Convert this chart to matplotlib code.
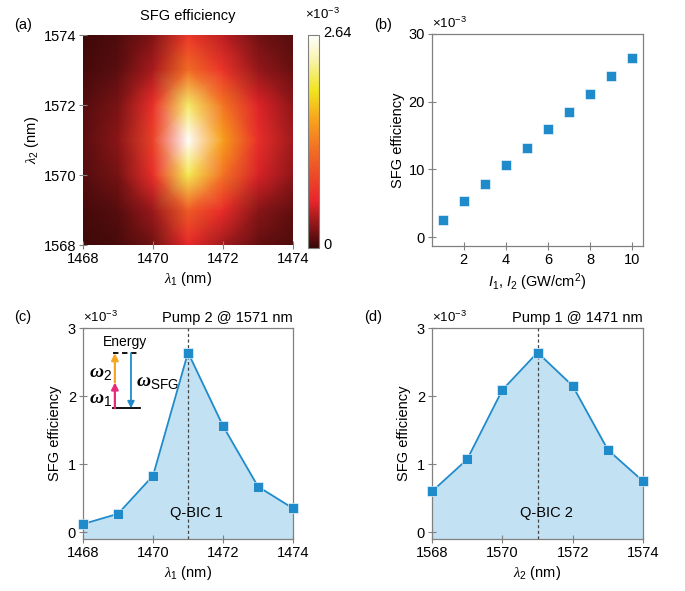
import numpy as np
import matplotlib
matplotlib.use("Agg")
import matplotlib.pyplot as plt
from matplotlib.colors import LinearSegmentedColormap

plt.rcParams['font.family'] = ['Liberation Sans', 'DejaVu Sans']
plt.rcParams['font.size'] = 10
plt.rcParams['mathtext.fontset'] = 'custom'
plt.rcParams['mathtext.rm'] = 'Liberation Sans'
plt.rcParams['mathtext.it'] = 'Liberation Sans:italic'
plt.rcParams['mathtext.sf'] = 'Liberation Serif:italic'
plt.rcParams['mathtext.bf'] = 'Liberation Serif:italic:bold'

# ---- data ----
lam1 = [1468, 1469, 1470, 1471, 1472, 1473, 1474]
lam2 = [1568, 1569, 1570, 1571, 1572, 1573, 1574]
# SFG efficiency map (x1e-3), rows = lam2, cols = lam1
sfg_map = [
    [0.03, 0.06, 0.19, 0.60, 0.35, 0.15, 0.08],
    [0.05, 0.11, 0.34, 1.07, 0.63, 0.27, 0.14],
    [0.10, 0.21, 0.66, 2.09, 1.24, 0.53, 0.28],
    [0.12, 0.27, 0.83, 2.64, 1.56, 0.67, 0.35],
    [0.10, 0.22, 0.68, 2.15, 1.27, 0.55, 0.28],
    [0.05, 0.12, 0.38, 1.21, 0.71, 0.31, 0.16],
    [0.03, 0.08, 0.24, 0.75, 0.44, 0.19, 0.10],
]
intensity = [1, 2, 3, 4, 5, 6, 7, 8, 9, 10]
sfg_vs_I = [2.6, 5.3, 7.9, 10.6, 13.2, 15.9, 18.5, 21.1, 23.8, 26.4]
sfg_pump2 = [0.12, 0.27, 0.83, 2.64, 1.56, 0.67, 0.35]   # vs lam1
sfg_pump1 = [0.60, 1.07, 2.09, 2.64, 2.15, 1.21, 0.75]   # vs lam2

blue = '#1f8bcb'
fillc = '#c2e1f2'
grey = '#808080'

cmap = LinearSegmentedColormap.from_list('sfg', [
    (0.0, '#380808'), (0.22, '#e8262b'), (0.45, '#f26a25'), (0.6, '#f7a21c'),
    (0.74, '#f2e41f'), (0.88, '#f7f3a8'), (1.0, '#ffffff')])

fig = plt.figure(figsize=(6.85, 5.91), dpi=100)

def style(ax):
    for s in ax.spines.values():
        s.set_color(grey)
        s.set_linewidth(0.9)
    ax.tick_params(direction='inout', length=6, width=0.8, color=grey,
                   labelsize=10.5, pad=2)

# (a) heatmap
axa = fig.add_axes([0.1212, 0.5854, 0.3066, 0.3553])
X, Y = np.meshgrid(lam1, lam2)
pc = axa.pcolormesh(X, Y, np.array(sfg_map), shading='gouraud', cmap=cmap,
                    vmin=0, vmax=2.64)
axa.set_xlim(1468, 1474)
axa.set_ylim(1568, 1574)
axa.set_xticks([1468, 1470, 1472, 1474])
axa.set_yticks([1568, 1570, 1572, 1574])
style(axa)
for s in axa.spines.values():
    s.set_visible(False)
axa.set_xlabel(r'$\mathsf{\lambda}_1$ (nm)', fontsize=10.5, labelpad=3)
axa.set_ylabel(r'$\mathsf{\lambda}_2$ (nm)', fontsize=10.5, labelpad=2)
axa.set_title('SFG efficiency', fontsize=10.5, pad=11)
fig.text(0.033, 0.958, '(a)', fontsize=10.5, va='center', ha='center')

cax = fig.add_axes([0.4496, 0.5804, 0.016, 0.3604])
cb = fig.colorbar(pc, cax=cax)
cb.set_ticks([])
cb.outline.set_edgecolor(grey)
cb.outline.set_linewidth(0.8)
fig.text(0.4715, 0.944, '2.64', fontsize=10.5, va='center', ha='left')
fig.text(0.4715, 0.585, '0', fontsize=10.5, va='center', ha='left')
fig.text(0.445, 0.975, r'$\times$10$^{-3}$', fontsize=9.5, va='center', ha='left')

# (b) efficiency vs intensity
axb = fig.add_axes([0.6307, 0.5838, 0.308, 0.3587])
axb.plot(intensity, sfg_vs_I, 's', color=blue, markersize=6.5, mec='white', mew=0.4)
axb.set_xlim(0.5, 10.5)
axb.set_ylim(-1.3, 30)
axb.set_xticks([2, 4, 6, 8, 10])
axb.set_yticks([0, 10, 20, 30])
style(axb)
axb.set_xlabel(r'$I_1$, $I_2$ (GW/cm$^2$)', fontsize=10.5, labelpad=3)
axb.set_ylabel('SFG efficiency', fontsize=10.5, labelpad=3)
axb.text(0.0, 1.015, r'$\times$10$^{-3}$', transform=axb.transAxes,
         fontsize=9.5, va='bottom', ha='left')
fig.text(0.559, 0.958, '(b)', fontsize=10.5, va='center', ha='center')

def line_panel(rect, xs, ys, xlabel, pump, label, tag, tagx):
    ax = fig.add_axes(rect)
    ax.fill_between(xs, ys, -0.1, color=fillc, lw=0)
    ax.plot(xs, ys, '-s', color=blue, lw=1.3, markersize=6.5, mec='white',
            mew=0.4, clip_on=False, zorder=4)
    ax.axvline(xs[3], color='#444444', lw=0.9, ls=(0, (2.5, 2)), zorder=3)
    ax.set_xlim(xs[0], xs[-1])
    ax.set_ylim(-0.1, 3)
    ax.set_xticks(xs[::2])
    ax.set_yticks([0, 1, 2, 3])
    style(ax)
    ax.set_xlabel(xlabel, fontsize=10.5, labelpad=3)
    ax.set_ylabel('SFG efficiency', fontsize=10.5, labelpad=4)
    ax.text(0.0, 1.015, r'$\times$10$^{-3}$', transform=ax.transAxes,
            fontsize=9.5, va='bottom', ha='left')
    ax.text(1.0, 1.015, pump, transform=ax.transAxes, fontsize=10.5,
            va='bottom', ha='right')
    ax.text(xs[3] + 0.25, 0.28, label, fontsize=10.5, ha='center', va='center',
            zorder=5)
    fig.text(tagx, 0.463, tag, fontsize=10.5, va='center', ha='center')
    return ax

axc = line_panel([0.1212, 0.088, 0.3066, 0.357], lam1, sfg_pump2,
                 r'$\mathsf{\lambda}_1$ (nm)', 'Pump 2 @ 1571 nm', 'Q-BIC 1',
                 '(c)', 0.033)
axd = line_panel([0.6307, 0.088, 0.308, 0.357], lam2, sfg_pump1,
                 r'$\mathsf{\lambda}_2$ (nm)', 'Pump 1 @ 1471 nm', 'Q-BIC 2',
                 '(d)', 0.544)

# energy diagram inset in (c)
lo, mid, hi = 1.82, 2.2, 2.63
axc.plot([1468.86, 1469.63], [lo, lo], color='black', lw=1.3, zorder=6)
axc.plot([1468.86, 1469.63], [hi, hi], color='black', lw=1.3,
         ls=(0, (3, 2)), zorder=6)
axc.annotate('', xy=(1468.91, mid), xytext=(1468.91, lo),
             arrowprops=dict(arrowstyle='-|>', color='#e8287a', lw=1.6,
                             mutation_scale=10, shrinkA=0, shrinkB=0), zorder=6)
axc.annotate('', xy=(1468.91, hi), xytext=(1468.91, mid),
             arrowprops=dict(arrowstyle='-|>', color='#f5a623', lw=1.6,
                             mutation_scale=10, shrinkA=0, shrinkB=0), zorder=6)
axc.annotate('', xy=(1469.37, lo), xytext=(1469.37, hi),
             arrowprops=dict(arrowstyle='-|>', color=blue, lw=1.3,
                             mutation_scale=10, shrinkA=0, shrinkB=0), zorder=6)
axc.text(1469.2, 2.8, 'Energy', fontsize=10, ha='center', va='center')
axc.text(1468.5, 2.33, r'$\mathbf{\omega}_2$', fontsize=14, ha='center', va='center')
axc.text(1468.5, 1.95, r'$\mathbf{\omega}_1$', fontsize=14, ha='center', va='center')
axc.text(1469.52, 2.2, r'$\mathbf{\omega}_{\mathrm{SFG}}$', fontsize=14,
         ha='left', va='center')

fig.savefig('out.png', dpi=100)
